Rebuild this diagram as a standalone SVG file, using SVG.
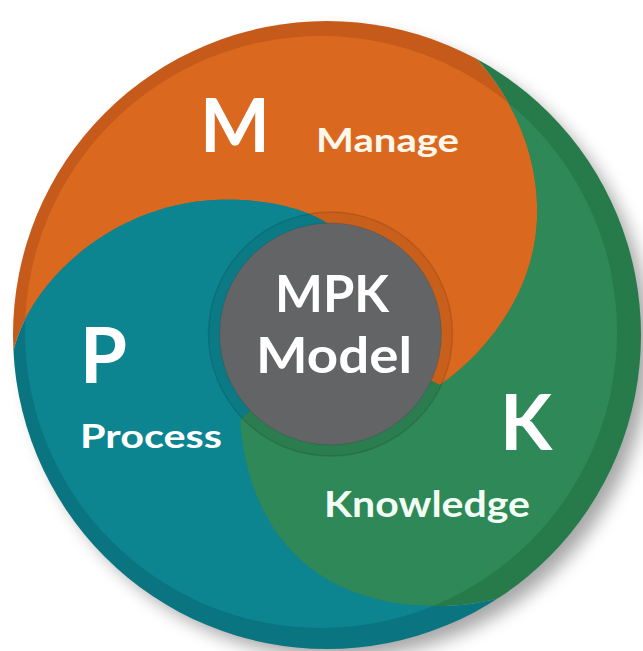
<svg xmlns="http://www.w3.org/2000/svg" xmlns:xlink="http://www.w3.org/1999/xlink" width="643" height="651" viewBox="0 0 643 651">
  <style>
    .lbl { font-family: Lato, "Open Sans", "Liberation Sans", sans-serif; font-weight: 700; fill: #ffffff; }
    .o-dark { fill: #C65A1A; }
    .o { fill: #DA691F; }
    .t-dark { fill: #0A7581; }
    .t { fill: #0D8591; }
    .g-dark { fill: #277B4B; }
    .g { fill: #2F8857; }
  </style>
  <defs>
    <clipPath id="outer"><circle cx="327" cy="335" r="314"/></clipPath>
    <clipPath id="inner"><circle cx="321" cy="332" r="296"/></clipPath>
    <filter id="shadow" x="-20%" y="-20%" width="140%" height="140%">
      <feGaussianBlur stdDeviation="9"/>
    </filter>
    <path id="rOrange" d="M 12,358 C 25,285 110,205 215,200 C 265,198 305,208 330,225 L 330,334 L 440,385 C 490,350 534,290 537,220 C 540,160 515,95 466,48 L 480,-20 L -20,-20 L -20,358 Z"/>
    <path id="rGreen" d="M 466,48 C 515,95 540,160 537,220 C 534,290 490,350 440,385 L 330,334 L 240,420 C 248,530 310,595 410,605 C 470,610 520,598 575,565 L 700,600 L 700,-20 L 480,-20 Z"/>
    <path id="rTeal" d="M 575,565 C 520,598 470,610 410,605 C 310,595 248,530 240,420 L 330,334 L 330,225 C 305,208 265,198 215,200 C 110,205 25,285 12,358 L -20,358 L -20,700 L 700,700 L 700,600 Z"/>
  </defs>

  <!-- drop shadow -->
  <circle cx="338" cy="346" r="312" fill="#000" opacity="0.35" filter="url(#shadow)"/>

  <g id="node-M">
    <use xlink:href="#rOrange" class="o-dark" clip-path="url(#outer)"/>
    <use xlink:href="#rOrange" class="o" clip-path="url(#inner)"/>
  </g>
  <g id="node-K">
    <use xlink:href="#rGreen" class="g-dark" clip-path="url(#outer)"/>
    <use xlink:href="#rGreen" class="g" clip-path="url(#inner)"/>
  </g>
  <g id="node-P">
    <use xlink:href="#rTeal" class="t-dark" clip-path="url(#outer)"/>
    <use xlink:href="#rTeal" class="t" clip-path="url(#inner)"/>
  </g>

  <g id="node-center">
    <circle cx="330.5" cy="334" r="122" fill="#000" fill-opacity="0.08" stroke="#000" stroke-opacity="0.12" stroke-width="1.5"/>
    <circle cx="330.5" cy="334" r="111" fill="#636466" stroke="#000" stroke-opacity="0.1" stroke-width="1"/>
    <text class="lbl" x="275" y="312" font-size="51" textLength="114" lengthAdjust="spacingAndGlyphs">MPK</text>
    <text class="lbl" x="256" y="373" font-size="50" textLength="156" lengthAdjust="spacingAndGlyphs">Model</text>
  </g>

  <g id="labels">
    <text class="lbl" x="200" y="152" font-size="74">M</text>
    <text class="lbl" x="316" y="152" font-size="32" textLength="143" lengthAdjust="spacingAndGlyphs" style="fill:#FFF6EC">Manage</text>
    <text class="lbl" x="80" y="383" font-size="76">P</text>
    <text class="lbl" x="80" y="448" font-size="33" textLength="142" lengthAdjust="spacingAndGlyphs">Process</text>
    <text class="lbl" x="500" y="450" font-size="76">K</text>
    <text class="lbl" x="324" y="517" font-size="36" textLength="206" lengthAdjust="spacingAndGlyphs" style="fill:#F2FFF4">Knowledge</text>
  </g>

  <g id="connectors"/>
</svg>
